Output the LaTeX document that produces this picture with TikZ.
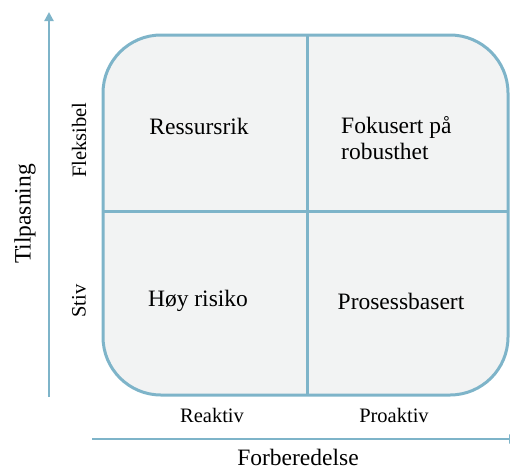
\documentclass[tikz,border=0pt]{standalone}
\usepackage{fontspec}
\setmainfont{Liberation Serif}
\usetikzlibrary{arrows.meta}
\definecolor{framebl}{RGB}{126,180,201}
\definecolor{cellgr}{RGB}{242,243,243}
\tikzset{ q/.style = { rectangle % quadrant label
        , inner sep = 0pt
        , font = \fontsize{23.5}{26}\selectfont
        }
        , a/.style = { rectangle % axis label
        , inner sep = 0pt
        , font = \fontsize{23.5}{26}\selectfont
        }
        , s/.style = { rectangle % scale label
        , inner sep = 0pt
        , font = \fontsize{20.5}{23}\selectfont
        }
        }

\begin{document}
\begin{tikzpicture}[x=1pt, y=-1pt,
        box_style/.style={draw=framebl, line width=3pt, fill=cellgr, rounded corners=58pt},
        grid_style/.style={draw=framebl, line width=3pt},
        axis_style/.style={draw=framebl, line width=2.2pt, -{Triangle[length=9pt,width=9pt]}}]
        \clip (0,0) rectangle (510,471);

        \draw [box_style] (103,35) rectangle (508,395);
        \coordinate (gt) at (307,35);
        \coordinate (gb) at (307,395);
        \coordinate (gl) at (103,211);
        \coordinate (gr) at (508,211);
        \draw [grid_style] (gt) -- (gb);
        \draw [grid_style] (gl) -- (gr);

        \coordinate (ya0) at (49,397);
        \coordinate (ya1) at (49,12);
        \coordinate (xa0) at (92,439);
        \coordinate (xa1) at (518,439);
        \draw [axis_style] (ya0) -- (ya1);
        \draw [axis_style] (xa0) -- (xa1);

        \node [q](n1) at (199,126) {Ressursrik};
        \node [q,align=left,anchor=west](n2) at (341,138) {Fokusert på\\robusthet};
        \node [q](n3) at (198,301) {Høy risiko};
        \node [q](n4) at (401,301) {Prosessbasert};

        \node [s,rotate=90](fl) at (79,140) {Fleksibel};
        \node [s,rotate=90](st) at (79,301) {Stiv};
        \node [s](re) at (212,415) {Reaktiv};
        \node [s](pr) at (394,415) {Proaktiv};

        \node [a,rotate=90](yl) at (25,214) {Tilpasning};
        \node [a](xl) at (298,457) {Forberedelse};
        \end{tikzpicture}
\end{document}
